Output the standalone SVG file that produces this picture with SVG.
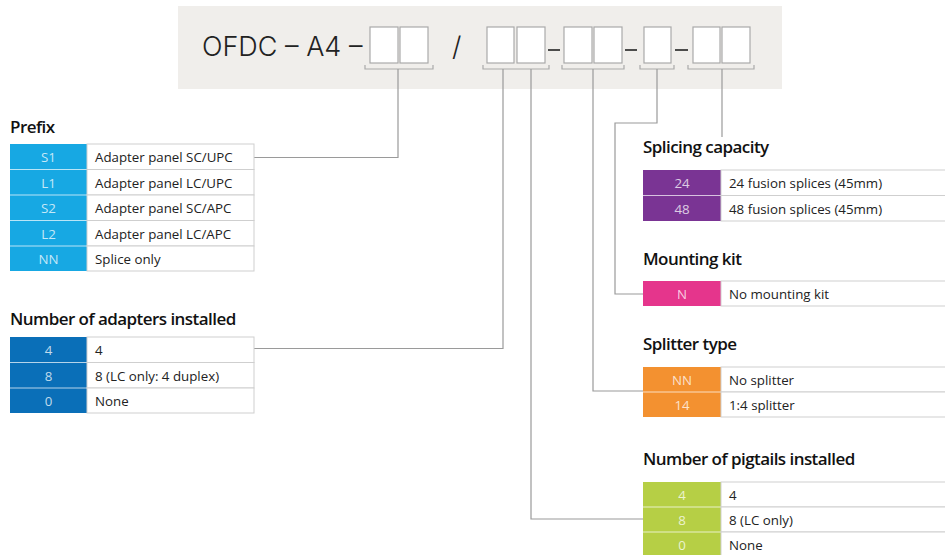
<svg xmlns="http://www.w3.org/2000/svg" width="945" height="555" viewBox="0 0 945 555">
<style>
.hdr{font-family:Inter,"Liberation Sans",sans-serif;font-weight:300;font-size:27px;fill:#222}
.box{fill:#fff;stroke:#aaa;stroke-width:1.2}
.brk{fill:none;stroke:#aaa;stroke-width:1.2}
.dash{stroke:#222;stroke-width:1.6}
.con{fill:none;stroke:#9a9a9a;stroke-width:1.2}
.h{font-family:"Open Sans","Liberation Sans",sans-serif;font-weight:600;font-size:17px;fill:#111;letter-spacing:-0.55px}
.d{fill:#fff;stroke:#cfcfcf;stroke-width:1}
.dt{font-family:"Open Sans","Liberation Sans",sans-serif;font-size:13.3px;fill:#222}
.ct{font-family:"Open Sans","Liberation Sans",sans-serif;font-size:13.3px;fill:#fff;fill-opacity:0.75;text-anchor:middle}
.sep{stroke:#fff;stroke-opacity:0.7;stroke-width:1}
</style>

<g id="header">
<rect x="178" y="6" width="604" height="83" fill="#F0EEEB"/>
<text class="hdr" x="202" y="56">OFDC – A4 –</text>
<text class="hdr" x="452" y="56">/</text>
<rect class="box" x="370" y="27" width="28" height="36"/>
<rect class="box" x="400" y="27" width="28" height="36"/>
<rect class="box" x="487" y="27" width="27" height="36"/>
<rect class="box" x="517" y="27" width="28" height="36"/>
<rect class="box" x="564" y="27" width="28" height="36"/>
<rect class="box" x="594" y="27" width="28" height="36"/>
<rect class="box" x="644" y="27" width="27" height="36"/>
<rect class="box" x="693" y="27" width="27" height="36"/>
<rect class="box" x="722" y="27" width="28" height="36"/>
<line class="dash" x1="548" y1="50" x2="560" y2="50"/>
<line class="dash" x1="625" y1="50" x2="637" y2="50"/>
<line class="dash" x1="675" y1="50" x2="688" y2="50"/>
<path class="brk" d="M365,65V69H433V65"/>
<path class="brk" d="M483,65V69H549V65"/>
<path class="brk" d="M562,65V69H624V65"/>
<path class="brk" d="M640,65V69H674V65"/>
<path class="brk" d="M688,65V69H754V65"/>
</g>

<g id="connectors">
<path class="con" d="M398,69V157.5H254"/>
<path class="con" d="M503,69V348.5H254"/>
<path class="con" d="M531,69V519H643"/>
<path class="con" d="M593,69V391H643"/>
<path class="con" d="M657,69V123H615V294H643"/>
<path class="con" d="M722,69V137"/>
</g>

<g id="prefix">
<text class="h" x="10" y="133">Prefix</text>
<rect x="10" y="144" width="77" height="127" fill="#17A8E3"/>
<line class="sep" x1="10" y1="169.5" x2="87" y2="169.5"/>
<line class="sep" x1="10" y1="195" x2="87" y2="195"/>
<line class="sep" x1="10" y1="220.5" x2="87" y2="220.5"/>
<line class="sep" x1="10" y1="246" x2="87" y2="246"/>
<rect class="d" x="87" y="144" width="167" height="25.5"/>
<rect class="d" x="87" y="169.5" width="167" height="25.5"/>
<rect class="d" x="87" y="195" width="167" height="25.5"/>
<rect class="d" x="87" y="220.5" width="167" height="25.5"/>
<rect class="d" x="87" y="246" width="167" height="25"/>
<text class="ct" x="48.5" y="162">S1</text>
<text class="ct" x="48.5" y="187.5">L1</text>
<text class="ct" x="48.5" y="213">S2</text>
<text class="ct" x="48.5" y="238.5">L2</text>
<text class="ct" x="48.5" y="264">NN</text>
<text class="dt" x="95" y="162">Adapter panel SC/UPC</text>
<text class="dt" x="95" y="187.5">Adapter panel LC/UPC</text>
<text class="dt" x="95" y="213">Adapter panel SC/APC</text>
<text class="dt" x="95" y="238.5">Adapter panel LC/APC</text>
<text class="dt" x="95" y="264">Splice only</text>
</g>

<g id="adapters">
<text class="h" x="10" y="325">Number of adapters installed</text>
<rect x="10" y="337" width="77" height="76" fill="#0A6FB8"/>
<line class="sep" x1="10" y1="362.5" x2="87" y2="362.5"/>
<line class="sep" x1="10" y1="388" x2="87" y2="388"/>
<rect class="d" x="87" y="337" width="167" height="25.5"/>
<rect class="d" x="87" y="362.5" width="167" height="25.5"/>
<rect class="d" x="87" y="388" width="167" height="25"/>
<text class="ct" x="48.5" y="355">4</text>
<text class="ct" x="48.5" y="380.5">8</text>
<text class="ct" x="48.5" y="406">0</text>
<text class="dt" x="95" y="355">4</text>
<text class="dt" x="95" y="380.5">8 (LC only: 4 duplex)</text>
<text class="dt" x="95" y="406">None</text>
</g>

<g id="splicing">
<text class="h" x="643" y="153">Splicing capacity</text>
<rect x="643" y="170" width="78" height="51" fill="#7A3494"/>
<line class="sep" x1="643" y1="195.5" x2="721" y2="195.5"/>
<rect class="d" x="721" y="170" width="230" height="25.5"/>
<rect class="d" x="721" y="195.5" width="230" height="25.5"/>
<text class="ct" x="682" y="188">24</text>
<text class="ct" x="682" y="213.5">48</text>
<text class="dt" x="729" y="188">24 fusion splices (45mm)</text>
<text class="dt" x="729" y="213.5">48 fusion splices (45mm)</text>
</g>

<g id="mounting">
<text class="h" x="643" y="265">Mounting kit</text>
<rect x="643" y="281" width="78" height="25" fill="#E5358C"/>
<rect class="d" x="721" y="281" width="230" height="25"/>
<text class="ct" x="682" y="299">N</text>
<text class="dt" x="729" y="299">No mounting kit</text>
</g>

<g id="splitter">
<text class="h" x="643" y="350">Splitter type</text>
<rect x="643" y="367" width="78" height="50" fill="#F39130"/>
<line class="sep" x1="643" y1="392" x2="721" y2="392"/>
<rect class="d" x="721" y="367" width="230" height="25"/>
<rect class="d" x="721" y="392" width="230" height="25"/>
<text class="ct" x="682" y="385">NN</text>
<text class="ct" x="682" y="410">14</text>
<text class="dt" x="729" y="385">No splitter</text>
<text class="dt" x="729" y="410">1:4 splitter</text>
</g>

<g id="pigtails">
<text class="h" x="643" y="465">Number of pigtails installed</text>
<rect x="643" y="482" width="78" height="76" fill="#B6CF45"/>
<line class="sep" x1="643" y1="507" x2="721" y2="507"/>
<line class="sep" x1="643" y1="532" x2="721" y2="532"/>
<rect class="d" x="721" y="482" width="230" height="25"/>
<rect class="d" x="721" y="507" width="230" height="25"/>
<rect class="d" x="721" y="532" width="230" height="26"/>
<text class="ct" x="682" y="500">4</text>
<text class="ct" x="682" y="525">8</text>
<text class="ct" x="682" y="550">0</text>
<text class="dt" x="729" y="500">4</text>
<text class="dt" x="729" y="525">8 (LC only)</text>
<text class="dt" x="729" y="550">None</text>
</g>
</svg>
